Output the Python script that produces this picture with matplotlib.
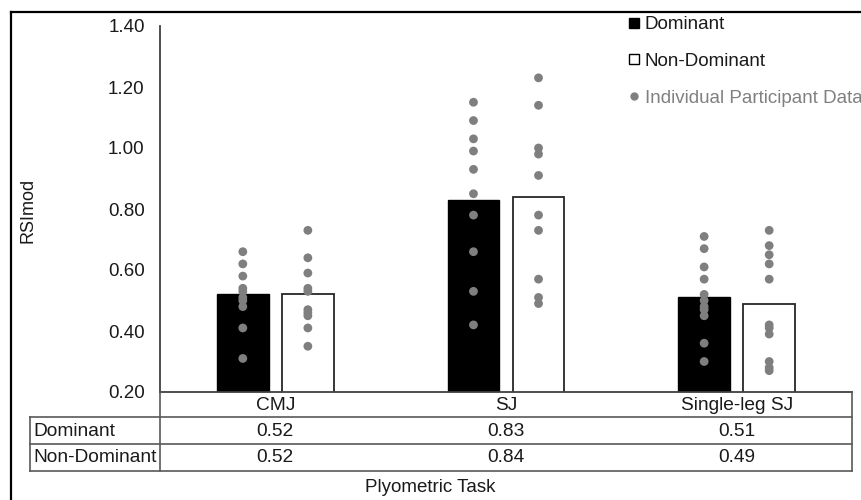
import matplotlib

matplotlib.use("Agg")
import matplotlib.pyplot as plt
import matplotlib.lines as mlines
import matplotlib.transforms as mtransforms
import numpy as np

# Dados
tasks = ["CMJ", "SJ", "Single-leg SJ"]
groups = ["Dominant", "Non-Dominant"]
mean_dominant = [0.52, 0.83, 0.51]
mean_non_dominant = [0.52, 0.84, 0.49]

# individual participant values
pts_dominant = [
    [0.66, 0.62, 0.58, 0.54, 0.53, 0.51, 0.50, 0.48, 0.41, 0.31],
    [1.15, 1.09, 1.03, 0.99, 0.93, 0.85, 0.78, 0.66, 0.53, 0.42],
    [0.71, 0.67, 0.61, 0.57, 0.52, 0.50, 0.48, 0.47, 0.45, 0.36, 0.30],
]
pts_non_dominant = [
    [0.73, 0.64, 0.59, 0.54, 0.53, 0.47, 0.46, 0.45, 0.41, 0.35],
    [1.23, 1.14, 1.00, 0.98, 0.91, 0.78, 0.73, 0.57, 0.51, 0.49],
    [0.73, 0.68, 0.65, 0.62, 0.57, 0.42, 0.41, 0.39, 0.30, 0.28, 0.27],
]
y_ticks = [0.20, 0.40, 0.60, 0.80, 1.00, 1.20, 1.40]

W, H = 862, 500


def fx(x):
    return x / W


def fy(y):
    return 1 - y / H


def main():
    plt.rcParams.update(
        {
            "font.family": ["Liberation Sans", "DejaVu Sans"],
            "font.size": 13,
            "text.color": "#1a1a1a",
        }
    )
    line_col = "#404040"
    dot_col = "#7f7f7f"

    fig = plt.figure(figsize=(W / 100, H / 100), dpi=100)
    ax = fig.add_axes([fx(160), fy(392), fx(852) - fx(160), fy(26) - fy(392)])

    x = np.arange(len(tasks))
    width = 0.225
    off = 0.141

    ax.bar(x - off, mean_dominant, width, bottom=0, color="black",
           edgecolor="black", linewidth=1, zorder=2)
    ax.bar(x + off, mean_non_dominant, width, color="white",
           edgecolor="#262626", linewidth=1.3, zorder=2)

    for i in range(len(tasks)):
        ax.scatter(np.full(len(pts_dominant[i]), x[i] - off), pts_dominant[i],
                   s=40, color=dot_col, edgecolor="none", zorder=3)
        ax.scatter(np.full(len(pts_non_dominant[i]), x[i] + off), pts_non_dominant[i],
                   s=40, color=dot_col, edgecolor="none", zorder=3)

    ax.set_xlim(-0.5, 2.5)
    ax.set_ylim(0.2, 1.4)
    ax.set_yticks(y_ticks, [f"{t:.2f}" for t in y_ticks])
    ax.set_xticks([])
    ax.tick_params(axis="y", length=0, pad=11, labelsize=13.5, labelcolor="#1a1a1a")
    for s in ["top", "right"]:
        ax.spines[s].set_visible(False)
    for s in ["left", "bottom"]:
        ax.spines[s].set_color(line_col)
        ax.spines[s].set_linewidth(1.3)

    fig.text(fx(28), fy(210), "RSImod", rotation=90, ha="center", va="center",
             fontsize=13)

    # Legenda
    handles = [
        mlines.Line2D([], [], color="black", lw=0, marker="s", markersize=7),
        mlines.Line2D([], [], color="black", lw=0, marker="s", markersize=7,
                      markerfacecolor="white", markeredgewidth=1),
        mlines.Line2D([], [], color=dot_col, lw=0, marker="o", markersize=5),
    ]
    ax.legend(
        handles=handles,
        labels=groups + ["Individual Participant Data"],
        loc="upper left",
        bbox_to_anchor=(fx(628), fy(16)),
        bbox_transform=fig.transFigure,
        frameon=False,
        fontsize=13.5,
        handlelength=0.6,
        handletextpad=0.3,
        labelspacing=1.05,
        borderpad=0,
        borderaxespad=0,
        labelcolor=["#1a1a1a", "#1a1a1a", "#808080"],
    )

    # Tabela de dados
    trans = mtransforms.blended_transform_factory(ax.transData, fig.transFigure)
    tfs = 13.8
    for i, t in enumerate(tasks):
        fig.text(x[i], fy(405), t, transform=trans, ha="center", va="center",
                 fontsize=tfs)
        fig.text(x[i], fy(431), f"{mean_dominant[i]:.2f}", transform=trans,
                 ha="center", va="center", fontsize=tfs)
        fig.text(x[i], fy(458), f"{mean_non_dominant[i]:.2f}", transform=trans,
                 ha="center", va="center", fontsize=tfs)
    fig.text(fx(33), fy(431), groups[0], ha="left", va="center", fontsize=tfs)
    fig.text(fx(33), fy(458), groups[1], ha="left", va="center", fontsize=tfs)

    tab_col = "#595959"
    segs = [
        ((30, 417), (852, 417)),
        ((30, 444), (852, 444)),
        ((30, 471), (852, 471)),
        ((30, 417), (30, 471)),
        ((852, 392), (852, 471)),
        ((160, 392), (160, 471)),
    ]
    for (x0, y0), (x1, y1) in segs:
        fig.add_artist(mlines.Line2D([fx(x0), fx(x1)], [fy(y0), fy(y1)],
                                     transform=fig.transFigure, color=tab_col, lw=1.2))

    fig.text(fx(430), fy(487), "Plyometric Task", ha="center", va="center", fontsize=13.5)

    # Moldura externa
    fig.add_artist(mlines.Line2D([fx(11), fx(11)], [fy(12), 0], transform=fig.transFigure,
                                 color="black", lw=1.6))
    fig.add_artist(mlines.Line2D([fx(11), 1], [fy(12), fy(12)], transform=fig.transFigure,
                                 color="black", lw=1.6))

    fig.savefig("out.png", dpi=100)
    plt.close(fig)


if __name__ == "__main__":
    main()
